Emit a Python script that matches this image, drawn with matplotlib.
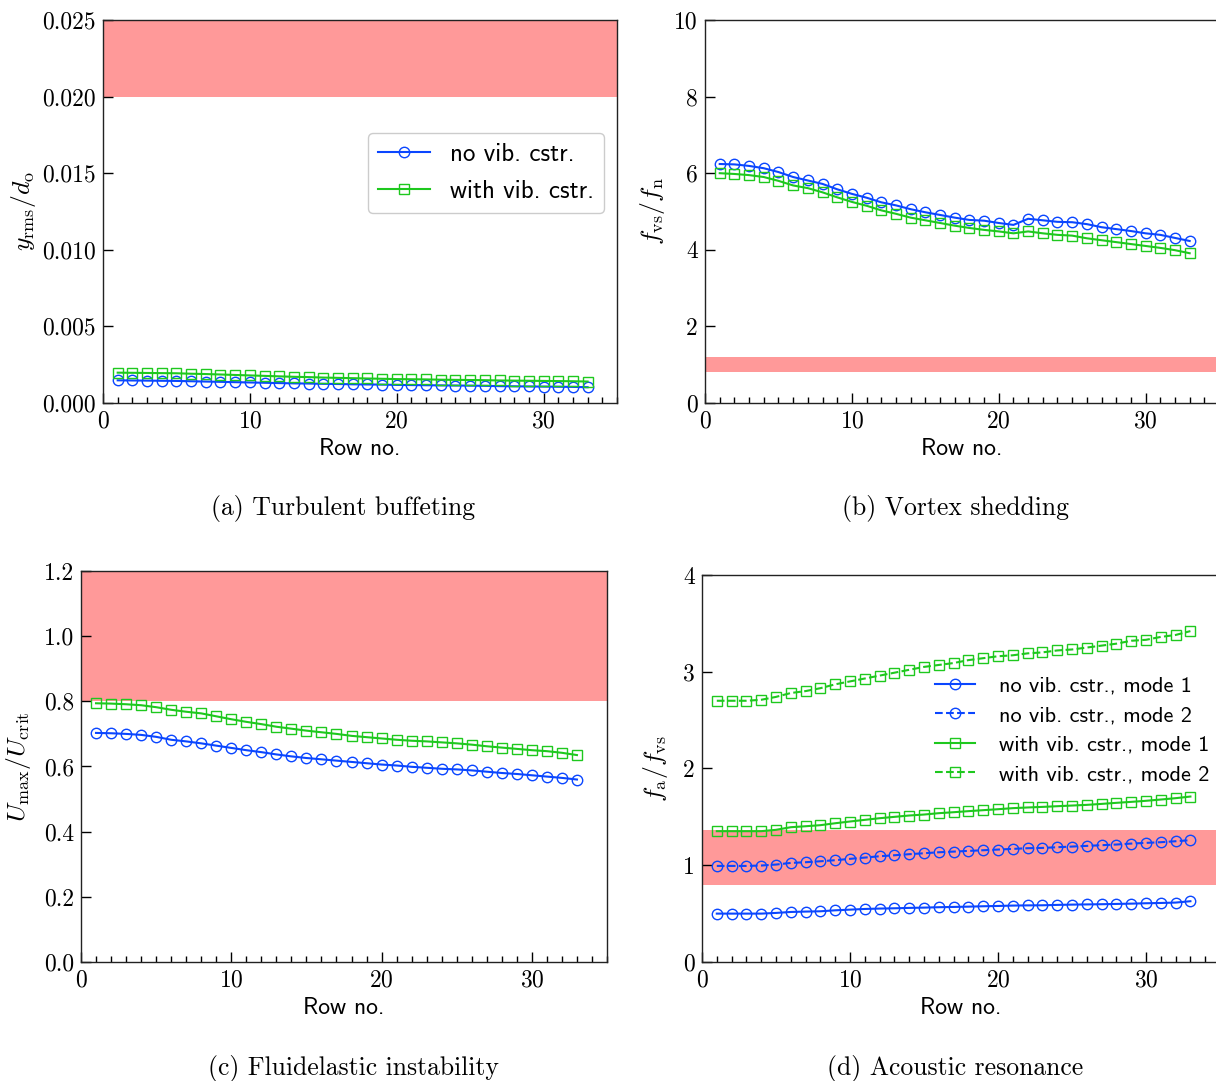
import matplotlib
matplotlib.use('Agg')
import matplotlib.pyplot as plt
from matplotlib.ticker import MultipleLocator, FormatStrFormatter

plt.rcParams['mathtext.fontset'] = 'cm'
plt.rcParams['font.family'] = 'cmr10'
plt.rcParams['axes.formatter.use_mathtext'] = True
plt.rcParams['axes.unicode_minus'] = False

rows = list(range(1, 34))

# (a) turbulent buffeting, y_rms / d_o
buff_no = [0.00148, 0.00147, 0.00146, 0.00145, 0.00144, 0.00142, 0.00140, 0.00138, 0.00136, 0.00134,
           0.00132, 0.00130, 0.00128, 0.00127, 0.00125, 0.00124, 0.00122, 0.00121, 0.00120, 0.00118,
           0.00117, 0.00116, 0.00115, 0.00114, 0.00113, 0.00112, 0.00110, 0.00109, 0.00108, 0.00107,
           0.00106, 0.00105, 0.00103]
buff_with = [0.00198, 0.00197, 0.00196, 0.00195, 0.00194, 0.00191, 0.00189, 0.00186, 0.00183, 0.00180,
             0.00177, 0.00174, 0.00171, 0.00169, 0.00166, 0.00164, 0.00162, 0.00160, 0.00158, 0.00156,
             0.00155, 0.00154, 0.00152, 0.00151, 0.00150, 0.00149, 0.00147, 0.00146, 0.00145, 0.00144,
             0.00143, 0.00142, 0.00140]
buff_limit = (0.020, 0.025)

# (b) vortex shedding, f_vs / f_n
vs_no = [6.24, 6.23, 6.19, 6.13, 6.03, 5.90, 5.81, 5.72, 5.58, 5.46,
         5.36, 5.24, 5.16, 5.06, 4.98, 4.91, 4.84, 4.78, 4.76, 4.70,
         4.65, 4.81, 4.77, 4.73, 4.72, 4.67, 4.59, 4.54, 4.49, 4.43,
         4.39, 4.31, 4.23]
vs_with = [6.00, 5.98, 5.95, 5.90, 5.80, 5.68, 5.61, 5.50, 5.37, 5.25,
           5.15, 5.03, 4.94, 4.84, 4.77, 4.70, 4.63, 4.57, 4.52, 4.48,
           4.43, 4.48, 4.43, 4.39, 4.37, 4.30, 4.25, 4.20, 4.15, 4.10,
           4.05, 3.99, 3.91]
vs_limit = (0.8, 1.2)

# (c) fluidelastic instability, U_max / U_crit
fei_no = [0.703, 0.702, 0.700, 0.697, 0.691, 0.682, 0.677, 0.671, 0.664, 0.657,
          0.650, 0.644, 0.637, 0.631, 0.626, 0.622, 0.618, 0.614, 0.610, 0.606,
          0.603, 0.599, 0.596, 0.593, 0.591, 0.588, 0.584, 0.580, 0.577, 0.573,
          0.569, 0.565, 0.560]
fei_with = [0.794, 0.793, 0.791, 0.788, 0.782, 0.774, 0.768, 0.763, 0.754, 0.745,
            0.737, 0.730, 0.722, 0.716, 0.710, 0.705, 0.700, 0.694, 0.690, 0.686,
            0.682, 0.679, 0.677, 0.674, 0.671, 0.667, 0.662, 0.658, 0.654, 0.650,
            0.647, 0.642, 0.635]
fei_limit = (0.8, 1.2)

# (d) acoustic resonance, f_a / f_vs
ac_no_m1 = [0.500, 0.500, 0.500, 0.500, 0.507, 0.517, 0.521, 0.524, 0.534, 0.541,
            0.548, 0.552, 0.555, 0.559, 0.562, 0.566, 0.569, 0.572, 0.576, 0.579,
            0.583, 0.585, 0.586, 0.590, 0.593, 0.595, 0.597, 0.600, 0.603, 0.607,
            0.610, 0.614, 0.628]
ac_no_m2 = [0.993, 0.993, 0.993, 0.997, 1.007, 1.024, 1.031, 1.041, 1.052, 1.066,
            1.079, 1.093, 1.103, 1.114, 1.124, 1.134, 1.141, 1.148, 1.155, 1.162,
            1.169, 1.176, 1.179, 1.186, 1.193, 1.200, 1.207, 1.214, 1.224, 1.231,
            1.238, 1.248, 1.259]
ac_with_m1 = [1.352, 1.352, 1.352, 1.352, 1.366, 1.393, 1.403, 1.414, 1.434, 1.452,
              1.469, 1.486, 1.500, 1.514, 1.524, 1.538, 1.548, 1.559, 1.569, 1.579,
              1.590, 1.597, 1.603, 1.610, 1.617, 1.624, 1.634, 1.645, 1.655, 1.666,
              1.679, 1.693, 1.710]
ac_with_m2 = [2.70, 2.70, 2.70, 2.71, 2.74, 2.78, 2.80, 2.83, 2.87, 2.90,
              2.93, 2.96, 2.99, 3.02, 3.05, 3.07, 3.09, 3.12, 3.14, 3.16,
              3.17, 3.19, 3.20, 3.22, 3.23, 3.25, 3.27, 3.29, 3.32, 3.33,
              3.36, 3.38, 3.42]
ac_limit = (0.8, 1.36)

BLUE = '#0a46ff'
GREEN = '#1ec81e'
RED = '#ff9999'
SANS = 'cmss10'
FS = 17


def style_axes(ax, ylim, ymajor, yfmt, ylabel, ylabel_x):
  ax.set_xlim(0, 35)
  ax.set_ylim(*ylim)
  ax.xaxis.set_major_locator(MultipleLocator(10))
  ax.xaxis.set_minor_locator(MultipleLocator(1))
  ax.yaxis.set_major_locator(MultipleLocator(ymajor))
  ax.yaxis.set_major_formatter(FormatStrFormatter(yfmt))
  ax.tick_params(which='both', direction='in', top=False, right=False, labelsize=FS, pad=5)
  ax.tick_params(which='major', length=7, width=1)
  ax.tick_params(which='minor', length=4, width=1)
  for s in ax.spines.values():
    s.set_linewidth(1.0)
    s.set_color('#222222')
  ax.set_xlabel('Row no.', fontfamily=SANS, fontsize=FS, labelpad=4)
  ax.set_ylabel(ylabel, fontsize=18.5)
  ax.yaxis.set_label_coords(ylabel_x, 0.5)


def plot_pair(ax, no, with_, ls='-', label_no='no vib. cstr.', label_with='with vib. cstr.'):
  ax.plot(rows, no, ls, color=BLUE, marker='o', ms=7.5, mfc='none', mew=1.0, lw=1.5, label=label_no)
  ax.plot(rows, with_, ls, color=GREEN, marker='s', ms=6.5, mfc='none', mew=1.0, lw=1.5, label=label_with)


fig = plt.figure(figsize=(12.16, 10.81), dpi=100)

ax_a = fig.add_axes([0.0847, 0.6272, 0.4227, 0.3543])
ax_b = fig.add_axes([0.5798, 0.6272, 0.4227, 0.3543])
ax_c = fig.add_axes([0.0666, 0.1101, 0.4326, 0.3617])
ax_d = fig.add_axes([0.5773, 0.1101, 0.4260, 0.3580])

# turbulent buffeting
ax_a.axhspan(*buff_limit, color=RED, lw=0, zorder=0)
plot_pair(ax_a, buff_no, buff_with)
style_axes(ax_a, (0, 0.025), 0.005, '%.3f', r'$y_\mathrm{rms}/d_\mathrm{o}$', -0.127)
leg = ax_a.legend(loc='upper right', bbox_to_anchor=(0.975, 0.705), borderaxespad=0,
                  prop={'family': SANS, 'size': 18}, handlelength=2.1, handletextpad=0.8,
                  labelspacing=0.55, borderpad=0.4, fancybox=True, framealpha=1.0)
leg.get_frame().set_edgecolor('#cccccc')

# vortex shedding
ax_b.axhspan(*vs_limit, color=RED, lw=0, zorder=0)
plot_pair(ax_b, vs_no, vs_with)
style_axes(ax_b, (0, 10), 2, '%d', r'$f_\mathrm{vs}/f_\mathrm{n}$', -0.074)

# fluidelastic instability
ax_c.axhspan(*fei_limit, color=RED, lw=0, zorder=0)
plot_pair(ax_c, fei_no, fei_with)
style_axes(ax_c, (0, 1.2), 0.2, '%.1f', r'$U_\mathrm{max}/U_\mathrm{crit}$', -0.091)

# acoustic resonance
ax_d.axhspan(*ac_limit, color=RED, lw=0, zorder=0)
plot_pair(ax_d, ac_no_m1, ac_with_m1)
plot_pair(ax_d, ac_no_m2, ac_with_m2, ls='--')
style_axes(ax_d, (0, 4), 1, '%d', r'$f_\mathrm{a}/f_\mathrm{vs}$', -0.062)
h, l = ax_d.get_legend_handles_labels()
labels_d = ['no vib. cstr., mode 1', 'no vib. cstr., mode 2',
            'with vib. cstr., mode 1', 'with vib. cstr., mode 2']
ax_d.legend([h[0], h[2], h[1], h[3]], labels_d, loc='upper left', bbox_to_anchor=(0.432, 0.762),
            borderaxespad=0, frameon=False, prop={'family': SANS, 'size': 16},
            handlelength=1.8, handletextpad=1.1, labelspacing=0.45)

captions = [(343, 508, '(a) Turbulent buffeting'), (955, 508, '(b) Vortex shedding'),
            (353, 1068, '(c) Fluidelastic instability'), (955, 1068, '(d) Acoustic resonance')]
for x, y, t in captions:
  fig.text(x / 1216, 1 - y / 1081, t, ha='center', va='center', fontsize=18.5)

fig.savefig('out.png', dpi=100)
